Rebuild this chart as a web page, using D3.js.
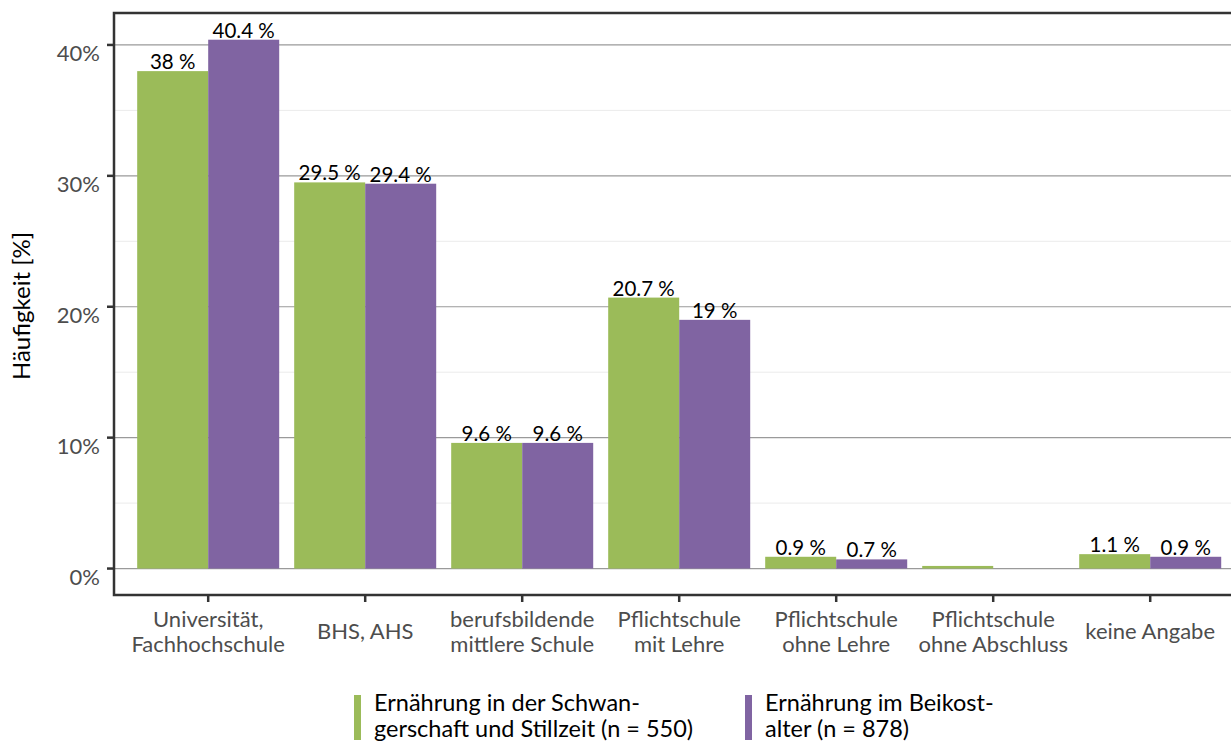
<!DOCTYPE html>
<html>
<head>
<meta charset="utf-8">
<script src="https://cdn.jsdelivr.net/npm/d3@7"></script>
<style>
  body { margin: 0; background: #fff; }
  svg { font-family: Lato, "Open Sans", sans-serif; }
</style>
</head>
<body>
<svg id="chart" width="1231" height="744"></svg>
<script>
// data
const categories = [
    ['Universität,', 'Fachhochschule'],
    ['BHS, AHS'],
    ['berufsbildende', 'mittlere Schule'],
    ['Pflichtschule', 'mit Lehre'],
    ['Pflichtschule', 'ohne Lehre'],
    ['Pflichtschule', 'ohne Abschluss'],
    ['keine Angabe']
];
const schwangerschaft = [38, 29.5, 9.6, 20.7, 0.9, 0.2, 1.1];
const beikost = [40.4, 29.4, 9.6, 19, 0.7, 0, 0.9];
const schwangerschaftLabels = ['38 %', '29.5 %', '9.6 %', '20.7 %', '0.9 %', null, '1.1 %'];
const beikostLabels = ['40.4 %', '29.4 %', '9.6 %', '19 %', '0.7 %', null, '0.9 %'];
const seriesNames = [
    ['Ernährung in der Schwan-', 'gerschaft und Stillzeit (n = 550)'],
    ['Ernährung im Beikost-', 'alter (n = 878)']
];
const colors = ['#9bbb59', '#8064a2'];
const yTicks = [0, 10, 20, 30, 40];
const yMinor = [5, 15, 25, 35];

const svg = d3.select('#chart');

// Panel geometry
const panelLeft = 114, panelTop = 13, panelBottom = 595;
const step = 157;
const panelRight = panelLeft + 7.2 * step;

const keys = categories.map((c, i) => i);

const x = d3.scaleBand()
    .domain(keys)
    .range([panelLeft, panelRight])
    .paddingInner(0.0955)
    .paddingOuter(0.1477);

const xInner = d3.scaleBand()
    .domain([0, 1])
    .range([0, x.bandwidth()]);

const y = d3.scaleLinear()
    .domain([-2.02, 42.44])
    .range([panelBottom, panelTop]);

const rows = [];
keys.forEach(i => {
    rows.push({ cat: i, s: 0, value: schwangerschaft[i], label: schwangerschaftLabels[i] });
    rows.push({ cat: i, s: 1, value: beikost[i], label: beikostLabels[i] });
});

// Grid lines
svg.append('g')
    .selectAll('line')
    .data(yMinor)
    .join('line')
    .attr('x1', panelLeft).attr('x2', 1231)
    .attr('y1', d => y(d)).attr('y2', d => y(d))
    .attr('stroke', '#ebebeb')
    .attr('stroke-width', 1);

svg.append('g')
    .selectAll('line')
    .data(yTicks)
    .join('line')
    .attr('x1', panelLeft).attr('x2', 1231)
    .attr('y1', d => y(d)).attr('y2', d => y(d))
    .attr('stroke', '#9a9a9a')
    .attr('stroke-width', 1.2);

// Bars
svg.append('g')
    .selectAll('rect')
    .data(rows.filter(d => d.value > 0))
    .join('rect')
    .attr('x', d => x(d.cat) + xInner(d.s))
    .attr('width', xInner.bandwidth())
    .attr('y', d => y(d.value))
    .attr('height', d => y(0) - y(d.value))
    .attr('fill', d => colors[d.s]);

// Bar labels
svg.append('g')
    .selectAll('text')
    .data(rows.filter(d => d.label))
    .join('text')
    .attr('x', d => x(d.cat) + xInner(d.s) + xInner.bandwidth() / 2)
    .attr('y', d => y(d.value) - 2)
    .attr('text-anchor', 'middle')
    .style('font-size', '20.5px')
    .style('fill', '#000')
    .text(d => d.label);

// Panel border
svg.append('rect')
    .attr('x', panelLeft)
    .attr('y', panelTop)
    .attr('width', panelRight - panelLeft)
    .attr('height', panelBottom - panelTop)
    .attr('fill', 'none')
    .attr('stroke', '#333')
    .attr('stroke-width', 2.5);

// Y axis ticks and labels
const yAxis = svg.append('g');
yAxis.selectAll('line')
    .data(yTicks)
    .join('line')
    .attr('x1', panelLeft - 7).attr('x2', panelLeft)
    .attr('y1', d => y(d)).attr('y2', d => y(d))
    .attr('stroke', '#333')
    .attr('stroke-width', 2.5);
yAxis.selectAll('text')
    .data(yTicks)
    .join('text')
    .attr('x', panelLeft - 14)
    .attr('y', d => y(d) + 16)
    .attr('text-anchor', 'end')
    .style('font-size', '22px')
    .style('fill', '#4d4d4d')
    .text(d => d + '%');

// X axis ticks and labels
const xAxis = svg.append('g');
xAxis.selectAll('line')
    .data(keys)
    .join('line')
    .attr('x1', d => x(d) + x.bandwidth() / 2)
    .attr('x2', d => x(d) + x.bandwidth() / 2)
    .attr('y1', panelBottom).attr('y2', panelBottom + 7)
    .attr('stroke', '#333')
    .attr('stroke-width', 2.5);

xAxis.selectAll('text')
    .data(keys)
    .join('text')
    .attr('text-anchor', 'middle')
    .style('font-size', '22px')
    .style('fill', '#4d4d4d')
    .each(function(d) {
        const lines = categories[d];
        const node = d3.select(this);
        const cx = x(d) + x.bandwidth() / 2;
        const y0 = lines.length === 1 ? 639 : 627;
        lines.forEach((line, i) => {
            node.append('tspan')
                .attr('x', cx)
                .attr('y', y0 + i * 25)
                .text(line);
        });
    });

// Y axis title
svg.append('text')
    .attr('transform', 'translate(30,306) rotate(-90)')
    .attr('text-anchor', 'middle')
    .style('font-size', '24px')
    .style('fill', '#000')
    .text('Häufigkeit [%]');

// Legend
const legendX = [354, 745];
const legend = svg.append('g');
seriesNames.forEach((lines, i) => {
    legend.append('rect')
        .attr('x', legendX[i])
        .attr('y', 695)
        .attr('width', 7)
        .attr('height', 45)
        .attr('fill', colors[i]);
    const t = legend.append('text')
        .style('font-size', '23.5px')
        .style('fill', '#000');
    lines.forEach((line, j) => {
        t.append('tspan')
            .attr('x', legendX[i] + 20)
            .attr('y', 711 + j * 26)
            .text(line);
    });
});
</script>
</body>
</html>
